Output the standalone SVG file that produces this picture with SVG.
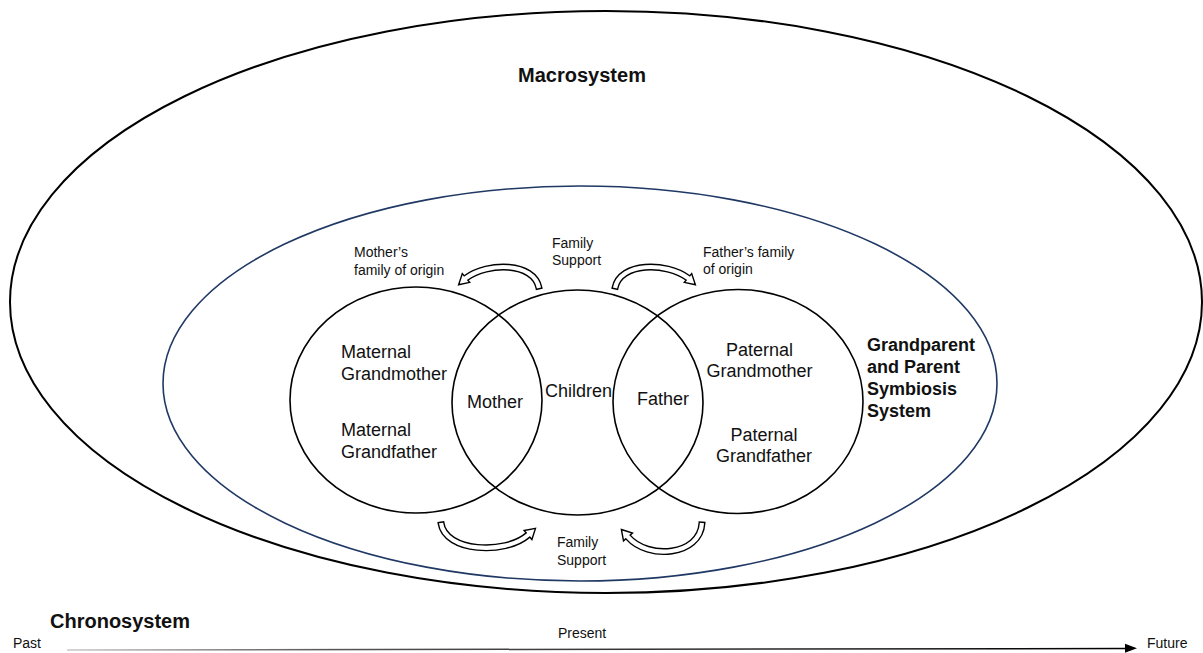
<svg xmlns="http://www.w3.org/2000/svg" width="1203" height="653" viewBox="0 0 1203 653">
<style>
  text { font-family: "Liberation Sans", Arial, sans-serif; fill: #111; }
  .big { font-size: 18px; }
  .small { font-size: 14px; }
  .bold { font-weight: bold; }
  .ring { fill: none; stroke: #000; stroke-width: 1.6; }
  .bandOut { fill: none; stroke: #000; stroke-width: 7; }
  .bandIn { fill: none; stroke: #fff; stroke-width: 4.2; }
  .head { fill: #fff; stroke: #000; stroke-width: 1.4; stroke-linejoin: miter; }
</style>
<defs>
  <linearGradient id="timeGrad" gradientUnits="userSpaceOnUse" x1="67" y1="0" x2="1130" y2="0">
    <stop offset="0" stop-color="#c8c8c8"/>
    <stop offset="0.25" stop-color="#555"/>
    <stop offset="1" stop-color="#000"/>
  </linearGradient>
</defs>

<g id="macrosystem">
  <ellipse cx="606" cy="302" rx="596" ry="291" fill="none" stroke="#000" stroke-width="2"/>
  <text class="bold" x="582" y="82" text-anchor="middle" font-size="20">Macrosystem</text>
</g>

<g id="symbiosis-system">
  <ellipse cx="580" cy="383.5" rx="417" ry="197.5" fill="none" stroke="#203864" stroke-width="1.6"/>
  <text class="bold big" x="867" y="351">Grandparent</text>
  <text class="bold big" x="867" y="373">and Parent</text>
  <text class="bold big" x="867" y="395">Symbiosis</text>
  <text class="bold big" x="867" y="417">System</text>
</g>

<g id="mother-family">
  <ellipse class="ring" cx="416" cy="400" rx="126" ry="113"/>
  <text class="big" x="341" y="358">Maternal</text>
  <text class="big" x="341" y="380">Grandmother</text>
  <text class="big" x="341" y="436">Maternal</text>
  <text class="big" x="341" y="458">Grandfather</text>
</g>

<g id="children-circle">
  <ellipse class="ring" cx="577.5" cy="402.5" rx="125.5" ry="112.5"/>
  <text class="big" x="545" y="397">Children</text>
</g>

<g id="father-family">
  <ellipse class="ring" cx="738" cy="401.5" rx="125" ry="112"/>
  <text class="big" x="759.5" y="356" text-anchor="middle">Paternal</text>
  <text class="big" x="759.5" y="377" text-anchor="middle">Grandmother</text>
  <text class="big" x="764" y="441" text-anchor="middle">Paternal</text>
  <text class="big" x="764" y="462" text-anchor="middle">Grandfather</text>
</g>

<g id="mother-node">
  <text class="big" x="467" y="408">Mother</text>
</g>

<g id="father-node">
  <text class="big" x="637" y="405">Father</text>
</g>

<g id="labels">
  <text class="small" x="354" y="257">Mother’s</text>
  <text class="small" x="354" y="275">family of origin</text>
  <text class="small" x="552" y="248">Family</text>
  <text class="small" x="552" y="265">Support</text>
  <text class="small" x="703" y="257">Father’s family</text>
  <text class="small" x="703" y="274">of origin</text>
  <text class="small" x="557" y="547">Family</text>
  <text class="small" x="557" y="565">Support</text>
</g>

<g id="connectors">
  <!-- top left: children -> mother's family of origin -->
  <path class="bandOut" d="M 539.3 289.5 L 539 288 C 534 262, 488 262, 466 278"/>
  <polygon class="head" points="458.6,284.7 469.7,282.4 462.3,273.6"/>
  <path class="bandIn" d="M 539 288 C 534 262, 488 262, 466 278 L 464.9 279"/>

  <!-- top right: children -> father's family of origin -->
  <path class="bandOut" d="M 614.7 289.5 L 615 288 C 620 262, 666 262, 688 278"/>
  <polygon class="head" points="695.4,284.7 684.3,282.4 691.7,273.6"/>
  <path class="bandIn" d="M 615 288 C 620 262, 666 262, 688 278 L 689.1 279"/>

  <!-- bottom left -->
  <path class="bandOut" d="M 440.8 521.5 L 441 523 C 445 552, 505 555, 528 535"/>
  <polygon class="head" points="535.5,528.4 531.9,539.5 524.1,530.5"/>
  <path class="bandIn" d="M 441 523 C 445 552, 505 555, 528 535 L 529.1 534"/>

  <!-- bottom right -->
  <path class="bandOut" d="M 702.1 521.5 L 702 523 C 700 556, 648 560, 628 537"/>
  <polygon class="head" points="621.4,529.5 632.5,533.1 623.5,540.9"/>
  <path class="bandIn" d="M 702 523 C 700 556, 648 560, 628 537 L 627 535.9"/>
</g>

<g id="chronosystem">
  <text class="bold" x="50" y="628" font-size="20">Chronosystem</text>
  <text class="small" x="13" y="648">Past</text>
  <text class="small" x="582" y="638" text-anchor="middle">Present</text>
  <text class="small" x="1147" y="648">Future</text>
  <line x1="67" y1="650" x2="1127" y2="648.5" stroke="url(#timeGrad)" stroke-width="1.5"/>
  <polygon points="1137,648.3 1125,643.8 1125,652.8" fill="#000"/>
</g>
</svg>
